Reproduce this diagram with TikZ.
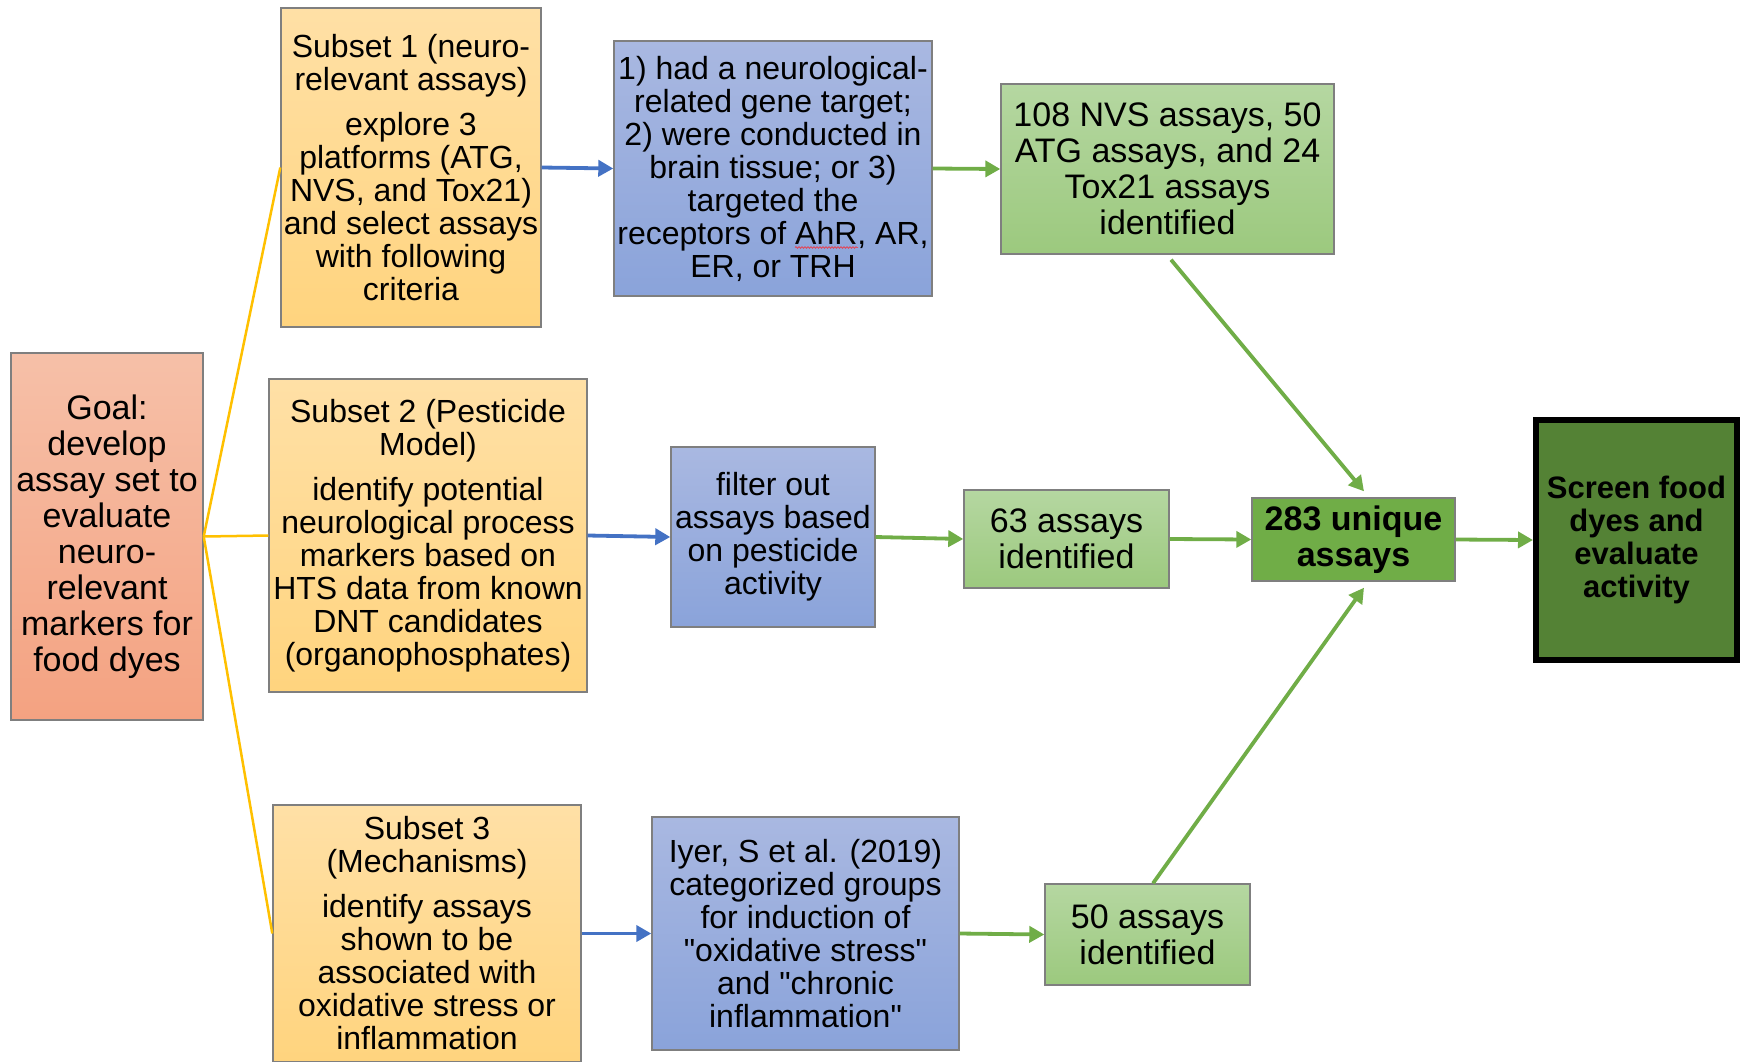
\documentclass[tikz,border=0pt]{standalone}
\usepackage{fontspec}
\setmainfont{Liberation Sans}[Ligatures=TeXOff]
\usetikzlibrary{arrows.meta,decorations.pathmorphing}
\definecolor{orTop}{HTML}{FFE0A6}
\definecolor{orBot}{HTML}{FFD47E}
\definecolor{goTop}{HTML}{F6C0A8}
\definecolor{goBot}{HTML}{F4A281}
\definecolor{blTop}{HTML}{A9B8E1}
\definecolor{blBot}{HTML}{8AA3DA}
\definecolor{grTop}{HTML}{B5D7A1}
\definecolor{grBot}{HTML}{9CC97E}
\definecolor{grMid}{HTML}{70AD47}
\definecolor{grDark}{HTML}{548235}
\definecolor{boxgray}{HTML}{7F7F7F}
\definecolor{ylLine}{HTML}{FFC000}
\definecolor{blLine}{HTML}{4472C4}
\definecolor{spellRed}{HTML}{E0485A}
\newcommand{\sq}{\char34 }
\begin{document}
\begin{tikzpicture}[x=1pt,y=-1pt,
  box/.style={draw=boxgray, line width=1.4pt, align=center, inner sep=0pt,
    font=\fontsize{32}{33}\selectfont},
  orange/.style={box, top color=orTop, bottom color=orBot},
  goalbox/.style={box, top color=goTop, bottom color=goBot, font=\fontsize{34}{36}\selectfont},
  bluebox/.style={box, top color=blTop, bottom color=blBot},
  greenbox/.style={box, top color=grTop, bottom color=grBot, font=\fontsize{34}{36}\selectfont},
  yl/.style={draw=ylLine, line width=2.5pt},
  barr/.style={draw=blLine, line width=3.8pt, -{Triangle[length=15pt,width=16pt]}},
  garr/.style={draw=grMid, line width=3.8pt, -{Triangle[length=15pt,width=16pt]}}
]
\useasboundingbox (0,0) rectangle (1742,1061);
\clip (0,0) rectangle (1742,1061);

\node[goalbox, minimum width=192pt, minimum height=367pt] (goal) at (107,536.5)
  {Goal:\\develop\\assay set to\\evaluate\\neuro-\\relevant\\markers for\\food dyes};

\node[orange, minimum width=260pt, minimum height=319pt] (s1) at (411,167.5)
  {Subset 1 (neuro-\\relevant assays)\\[12pt]explore 3\\platforms (ATG,\\NVS, and Tox21)\\and select assays\\with following\\criteria};

\node[bluebox, minimum width=318pt, minimum height=255pt] (b1) at (773,168.5)
  {1) had a neurological-\\related gene target;\\2) were conducted in\\brain tissue; or 3)\\targeted the\\receptors of AhR, AR,\\ER, or TRH};

\node[greenbox, minimum width=333pt, minimum height=170pt] (g1) at (1167.5,169)
  {108 NVS assays, 50\\ATG assays, and 24\\Tox21 assays\\identified};

\node[orange, minimum width=318pt, minimum height=313pt] (s2) at (428,535.5)
  {Subset 2 (Pesticide\\Model)\\[12pt]identify potential\\neurological process\\markers based on\\HTS data from known\\DNT candidates\\(organophosphates)};

\node[bluebox, minimum width=204pt, minimum height=180pt] (b2) at (773,537)
  {filter out\\assays based\\on pesticide\\activity};

\node[greenbox, minimum width=205pt, minimum height=98pt] (g2) at (1066.5,539)
  {63 assays\\identified};

\node[box, fill=grMid, minimum width=203pt, minimum height=83pt,
  font=\fontsize{34}{36}\selectfont\bfseries] (u) at (1353.5,539.5)
  {283 unique\\assays};

\node[draw=black, line width=6pt, fill=grDark, align=center, inner sep=0pt,
  minimum width=201pt, minimum height=240pt,
  font=\fontsize{31}{33}\selectfont\bfseries] (scr) at (1636.5,540)
  {Screen food\\dyes and\\evaluate\\activity};

\node[orange, minimum width=308pt, minimum height=257pt] (s3) at (427,933.5)
  {Subset 3\\(Mechanisms)\\[12pt]identify assays\\shown to be\\associated with\\oxidative stress or\\inflammation};

\node[bluebox, minimum width=307pt, minimum height=233pt] (b3) at (805.5,933.5)
  {Iyer, S et al. (2019)\\categorized groups\\for induction of\\\sq oxidative stress\sq\\and \sq chronic\\inflammation\sq};

\node[greenbox, minimum width=205pt, minimum height=101pt] (g3) at (1147.5,934.5)
  {50 assays\\identified};

% spell-check underline under "AhR"
\draw[spellRed, line width=0.9pt, decorate,
  decoration={snake, amplitude=0.8pt, segment length=3pt}] (795,247.5) -- (858,247.5);

\draw[yl] (goal.east) -- (s1.west);
\draw[yl] (goal.east) -- (s2.west);
\draw[yl] (goal.east) -- (s3.west);

\draw[barr] (s1.east) -- (b1.west);
\draw[barr] (s2.east) -- (b2.west);
\draw[barr] (s3.east) -- (b3.west);

\draw[garr] (b1.east) -- (g1.west);
\draw[garr] (b2.east) -- (g2.west);
\draw[garr] (b3.east) -- (g3.west);
\draw[garr] (g2.east) -- (u.west);
\draw[garr] (u.east) -- (scr.west);
\draw[garr] ([xshift=3.5pt,yshift=-5pt]g1.south) -- ([xshift=10.5pt,yshift=6pt]u.north);
\draw[garr] ([xshift=5.5pt]g3.north) -- ([xshift=10.5pt,yshift=-6pt]u.south);
\end{tikzpicture}
\end{document}
